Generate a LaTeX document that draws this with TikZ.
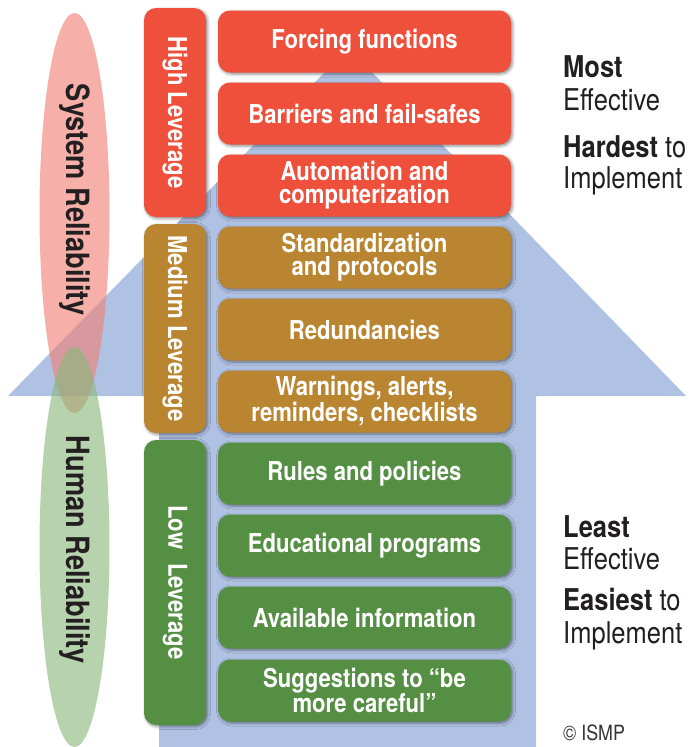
\documentclass[tikz,border=0pt]{standalone}
\usepackage{fontspec}
\setmainfont{TeX Gyre Heros}[FakeStretch=0.85]
\usetikzlibrary{shapes.geometric,shadows.blur}

\definecolor{cor_red}{RGB}{239,80,59}
\definecolor{cor_brown}{RGB}{185,133,48}
\definecolor{cor_green}{RGB}{85,143,67}
\definecolor{cor_blue}{RGB}{176,194,228}
\definecolor{cor_pink}{RGB}{240,128,116}
\definecolor{cor_sage}{RGB}{138,184,124}
\definecolor{cor_text}{RGB}{35,31,32}

\begin{document}
\begin{tikzpicture}[x=1pt, y=-1pt]
        \tikzset{
            sombra/.style={
                blur shadow={shadow xshift=1.5pt, shadow yshift=-1.5pt,
                    shadow blur radius=3pt, shadow opacity=45}
            },
            nivel/.style={
                fill=#1,
                rounded corners=12pt,
                minimum width=62pt,
                inner sep=0pt,
                text=white,
                font=\bfseries\fontsize{26}{26}\selectfont,
                sombra
            },
            acao/.style={
                fill=#1,
                rounded corners=12pt,
                minimum width=293pt,
                minimum height=62pt,
                inner sep=0pt,
                align=center,
                text=white,
                font=\bfseries\fontsize{26}{23}\selectfont,
                sombra
            },
            elip/.style={
                ellipse,
                fill=#1,
                fill opacity=0.62,
                minimum width=70pt,
                minimum height=400pt,
                inner sep=0pt
            },
            rotulo/.style={
                text=cor_text,
                inner sep=0pt,
                font=\bfseries\fontsize{32}{32}\selectfont
            },
            lado/.style={
                anchor=base west,
                inner sep=0pt,
                text=cor_text,
                font=\fontsize{30}{30}\selectfont
            }
        }
        \useasboundingbox (0,0) rectangle (689,747);

        %seta azul ao fundo
        \fill[cor_blue] (8,396) -- (348.5,48) -- (686,396) -- (536,396)
            -- (536,747) -- (159,747) -- (159,396) -- cycle;

        %elipses
        \node[elip=cor_pink] (sysrel) at (74.5,213) {};
        \node[elip=cor_sage] (humrel) at (74.5,547) {};
        \node[rotulo] (sysrel_txt) at (74.5,200) {\rotatebox{-90}{System Reliability}};
        \node[rotulo] (humrel_txt) at (74.5,550) {\rotatebox{-90}{Human Reliability}};

        %niveis
        \node[nivel=cor_red, minimum height=209pt] (high) at (175,112.5) {\rotatebox{-90}{High Leverage}};
        \node[nivel=cor_brown, minimum height=209pt] (medium) at (175,328.5) {\rotatebox{-90}{Medium Leverage}};
        \node[nivel=cor_green, minimum height=285pt] (low) at (175,582.5) {\rotatebox{-90}{Low\hspace{14pt}Leverage}};

        %acoes
        \node[acao=cor_red] (forc) at (364.5,41.5) {Forcing functions};
        \node[acao=cor_red] (barr) at (364.5,113.5) {Barriers and fail-safes};
        \node[acao=cor_red] (autom) at (364.5,185.5) {Automation and\\computerization};

        \node[acao=cor_brown] (stand) at (364.5,257.5) {Standardization\\and protocols};
        \node[acao=cor_brown] (redun) at (364.5,329.5) {Redundancies};
        \node[acao=cor_brown] (warn) at (364.5,401.5) {Warnings, alerts,\\reminders, checklists};

        \node[acao=cor_green] (rules) at (364.5,473.5) {Rules and policies};
        \node[acao=cor_green] (educ) at (364.5,545.5) {Educational programs};
        \node[acao=cor_green] (avail) at (364.5,617.5) {Available information};
        \node[acao=cor_green] (sugg) at (364.5,690.5) {Suggestions to “be\\more careful”};

        %textos do lado direito
        \node[lado] (most) at (563,77) {\textbf{Most}};
        \node[lado] (eff_top) at (563,110) {Effective};
        \node[lado] (hard) at (563,157) {\textbf{Hardest} to};
        \node[lado] (impl_top) at (563,188) {Implement};

        \node[lado] (least) at (563,537) {\textbf{Least}};
        \node[lado] (eff_bot) at (563,569) {Effective};
        \node[lado] (easy) at (563,610) {\textbf{Easiest} to};
        \node[lado] (impl_bot) at (563,643) {Implement};

        \node[lado, font=\fontsize{21}{21}\selectfont, text=black!80] (copy) at (563,740) {© ISMP};

    \end{tikzpicture}
\end{document}
